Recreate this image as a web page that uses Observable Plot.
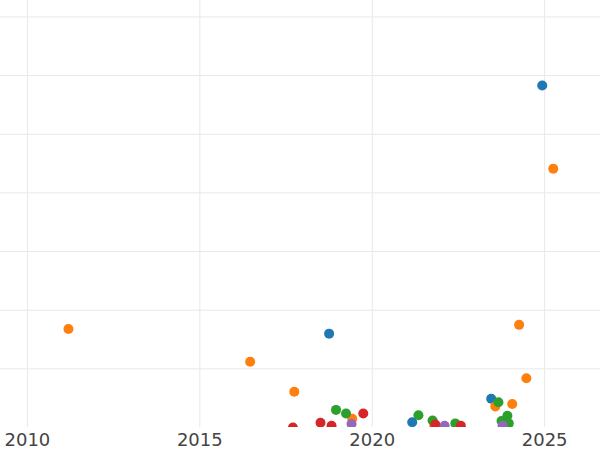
<!DOCTYPE html>
<html>
<head>
<meta charset="utf-8">
<script src="https://cdn.jsdelivr.net/npm/d3@7"></script>
<script src="https://cdn.jsdelivr.net/npm/@observablehq/plot@0.6"></script>
<style>
  html, body { margin: 0; padding: 0; background: #fff; }
  #chart svg { display: block; }
</style>
</head>
<body>
<div id="chart"></div>
<script>
const seriesNames = ["Series 1", "Series 2", "Series 3", "Series 4", "Series 5"];
const seriesColors = ["#1f77b4", "#ff7f0e", "#2ca02c", "#d62728", "#9467bd"];

const s1Years  = [2018.75, 2021.16, 2023.45, 2024.93];
const s1Values = [16.0, 0.9, 4.9, 58.3];

const s2Years  = [2011.19, 2016.46, 2017.74, 2019.42, 2021.80, 2023.57, 2024.06, 2024.26, 2024.47, 2025.25];
const s2Values = [16.8, 11.2, 6.1, 1.5, 0.4, 3.6, 4.0, 17.5, 8.4, 44.1];

const s3Years  = [2018.95, 2019.24, 2021.34, 2021.75, 2022.41, 2023.66, 2023.75, 2023.92, 2023.96];
const s3Values = [3.0, 2.4, 2.1, 1.2, 0.7, 4.3, 1.1, 2.0, 0.7];

const s4Years  = [2017.70, 2018.50, 2018.82, 2019.74, 2021.83, 2022.57];
const s4Values = [0.0, 0.8, 0.3, 2.4, 0.5, 0.3];

const s5Years  = [2019.40, 2022.10, 2023.78];
const s5Values = [0.6, 0.3, 0.3];

const xTicks = [2010, 2015, 2020, 2025];
const yTicks = [10, 20, 30, 40, 50, 60, 70];

const allYears = [s1Years, s2Years, s3Years, s4Years, s5Years];
const allValues = [s1Values, s2Values, s3Values, s4Values, s5Values];
const data = [];
allYears.forEach((ys, i) => ys.forEach((y, j) => data.push({series: seriesNames[i], year: y, value: allValues[i][j]})));

const chart = Plot.plot({
  width: 600,
  height: 450,
  marginTop: 0,
  marginBottom: 23,
  marginLeft: 0,
  marginRight: 0,
  style: {fontFamily: "DejaVu Sans", fontSize: "18px", color: "#444", background: "#fff"},
  x: {domain: [2009.22, 2026.62], ticks: xTicks, tickFormat: d => String(d), tickSize: 0, tickPadding: 6, label: null},
  y: {domain: [0, 72.8], axis: null},
  color: {domain: seriesNames, range: seriesColors},
  marks: [
    Plot.gridX(xTicks, {stroke: "#e8e8e8", strokeOpacity: 1, strokeWidth: 1}),
    Plot.gridY(yTicks, {stroke: "#e8e8e8", strokeOpacity: 1, strokeWidth: 1}),
    Plot.dot(data, {x: "year", y: "value", fill: "series", r: 5, clip: true})
  ]
});
document.getElementById("chart").appendChild(chart);
</script>
</body>
</html>
